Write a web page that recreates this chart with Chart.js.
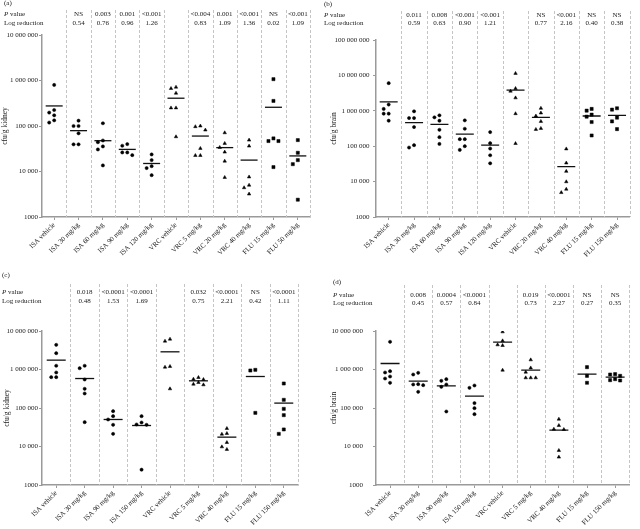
<!DOCTYPE html>
<html>
<head>
<meta charset="utf-8">
<script src="https://cdn.jsdelivr.net/npm/chart.js@4/dist/chart.umd.min.js"></script>
<style>
  body { margin: 0; background: #fff; }
  #wrap { position: relative; width: 640px; height: 529px; }
  canvas { position: absolute; }
</style>
</head>
<body>
<div id="wrap">
  <canvas id="chartA" width="320" height="262" style="left:0;top:0"></canvas>
  <canvas id="chartB" width="320" height="262" style="left:320px;top:0"></canvas>
  <canvas id="chartC" width="320" height="267" style="left:0;top:262px"></canvas>
  <canvas id="chartD" width="320" height="267" style="left:320px;top:262px"></canvas>
</div>
<script>
/* (a) kidney */
const labelsA = ['ISA vehicle', 'ISA 30 mg/kg', 'ISA 60 mg/kg', 'ISA 90 mg/kg', 'ISA 120 mg/kg', 'VRC vehicle', 'VRC 5 mg/kg', 'VRC 20 mg/kg', 'VRC 40 mg/kg', 'FLU 15 mg/kg', 'FLU 50 mg/kg'];
const valuesA = [
	[800000, 225000, 197000, 172000, 133000, 119000],
	[131000, 100000, 100000, 69000, 39500, 39500],
	[115000, 48000, 44000, 35600, 30500, 13600],
	[40000, 36800, 26200, 26200, 22900],
	[23700, 17800, 13100, 11900, 8300],
	[713000, 667000, 526000, 250000, 250000, 58000],
	[100000, 96700, 81600, 32200, 22500, 22500],
	[71000, 41500, 33800, 26700, 16900, 7400],
	[49000, 36200, 7600, 5000, 4400, 3200],
	[1070000, 356000, 53400, 46700, 46700, 12500],
	[49000, 25800, 17800, 14500, 2400]
];
const meansA = [276000, 79000, 47500, 30600, 15000, 408000, 60100, 33500, 17800, 258000, 22000];
const pValA = ['', 'NS', '0.003', '0.001', '<0.001', '', '<0.004', '0.001', '<0.001', 'NS', '<0.001'];
const logRedA = ['', '0.54', '0.76', '0.96', '1.26', '', '0.83', '1.09', '1.36', '0.02', '1.09'];
const yTicksA = [1000, 10000, 100000, 1000000, 10000000];

/* (b) brain */
const labelsB = ['ISA vehicle', 'ISA 30 mg/kg', 'ISA 60 mg/kg', 'ISA 90 mg/kg', 'ISA 120 mg/kg', 'VRC vehicle', 'VRC 20 mg/kg', 'VRC 40 mg/kg', 'FLU 15 mg/kg', 'FLU 150 mg/kg'];
const valuesB = [
	[6050000, 1500000, 1130000, 830000, 830000, 525000],
	[968000, 625000, 625000, 347000, 107000, 91600],
	[745000, 653000, 525000, 291000, 180000, 116000],
	[537000, 311000, 158000, 158000, 100000, 78700],
	[250000, 122000, 85900, 55500, 32900],
	[11400000, 4270000, 3590000, 2320000, 830000, 119000],
	[1180000, 867000, 713000, 502000, 318000, 298000],
	[83900, 33600, 19500, 9900, 6100, 4900],
	[1130000, 1010000, 779000, 683000, 481000, 201000],
	[1180000, 1080000, 640000, 502000, 304000]
];
const meansB = [1780000, 461000, 413000, 219000, 107000, 3830000, 653000, 26400, 713000, 745000];
const pValB = ['', '0.011', '0.008', '<0.001', '<0.001', '', 'NS', '<0.001', 'NS', 'NS'];
const logRedB = ['', '0.59', '0.63', '0.90', '1.21', '', '0.77', '2.16', '0.40', '0.38'];
const yTicksB = [1000, 10000, 100000, 1000000, 10000000, 100000000];

/* (c) kidney */
const labelsC = ['ISA vehicle', 'ISA 30 mg/kg', 'ISA 90 mg/kg', 'ISA 150 mg/kg', 'VRC vehicle', 'VRC 5 mg/kg', 'VRC 40 mg/kg', 'FLU 15 mg/kg', 'FLU 150 mg/kg'];
const valuesC = [
	[4370000, 2650000, 1250000, 836000, 632000, 632000],
	[1250000, 1080000, 550000, 315000, 238000, 42900],
	[82800, 61400, 50300, 36600, 21300],
	[61400, 42000, 37300, 36600, 2500],
	[6140000, 5450000, 1200000, 1150000, 315000],
	[620000, 561000, 550000, 459000, 416000, 400000],
	[29400, 21800, 20900, 12700, 9800, 8400],
	[980000, 942000, 74800],
	[433000, 163000, 95000, 65200, 27700, 21300]
];
const meansC = [1750000, 583000, 50300, 35100, 2880000, 508000, 17500, 658000, 134000];
const pValC = ['', '0.018', '<0.0001', '<0.0001', '', '0.032', '<0.0001', 'NS', '<0.0001'];
const logRedC = ['', '0.48', '1.53', '1.69', '', '0.75', '2.21', '0.42', '1.11'];
const yTicksC = [1000, 10000, 100000, 1000000, 10000000];

/* (d) brain */
const labelsD = ['ISA vehicle', 'ISA 30 mg/kg', 'ISA 90 mg/kg', 'ISA 150 mg/kg', 'VRC vehicle', 'VRC 5 mg/kg', 'VRC 40 mg/kg', 'FLU 15 mg/kg', 'FLU 150 mg/kg'];
const valuesD = [
	[5240000, 905000, 836000, 658000, 583000, 451000],
	[819000, 741000, 416000, 408000, 392000, 263000],
	[561000, 508000, 408000, 355000, 81100],
	[384000, 334000, 134000, 99000, 69200],
	[9500000, 5560000, 4370000, 4200000, 961000],
	[1780000, 1100000, 853000, 608000, 608000, 608000],
	[51300, 35100, 28200, 27700, 7900, 5300],
	[1150000, 684000, 451000],
	[757000, 741000, 684000, 561000, 528000, 518000]
];
const meansD = [1430000, 498000, 377000, 203000, 5130000, 961000, 26500, 757000, 632000];
const pValD = ['', '0.008', '0.0004', '<0.0001', '', '0.019', '<0.0001', 'NS', 'NS'];
const logRedD = ['', '0.45', '0.57', '0.84', '', '0.73', '2.27', '0.27', '0.35'];
const yTicksD = [1000, 10000, 100000, 1000000, 10000000];


const FONT = "'Liberation Serif', 'Times New Roman', serif";
const TEXT = '#1a1a1a';
const AXIS = '#9a9a9a';

//천단위 공백 (1000 은 그대로)
function fmtTick(v) {
	if (v < 10000) return String(v);
	return String(v).replace(/\B(?=(\d{3})+(?!\d))/g, ' ');
}

//약물별 마커 모양
function markerFor(label) {
	if (label.indexOf('ISA') === 0) return { style: 'circle', r: 1.6 };
	if (label.indexOf('VRC') === 0) return { style: 'triangle', r: 2 };
	return { style: 'rect', r: 2.2 };
}

/* 점선 구분선 + P value / Log reduction 헤더 */
const panelPlugin = {
	id: 'panel',
	beforeDatasetsDraw(chart, args, o) {
		const ctx = chart.ctx, xs = chart.scales.x, area = chart.chartArea;
		ctx.save();
		ctx.strokeStyle = '#c4c4c4';
		ctx.lineWidth = 1;
		ctx.setLineDash([3, 2]);
		for (let i = 0; i < o.labels.length; i++) {
			const x = Math.round(xs.getPixelForValue(i + 0.5)) + 0.5;
			ctx.beginPath();
			ctx.moveTo(x, o.sepTop);
			ctx.lineTo(x, area.bottom);
			ctx.stroke();
		}
		ctx.restore();
	},
	afterDraw(chart, args, o) {
		const ctx = chart.ctx, xs = chart.scales.x;
		ctx.save();
		ctx.fillStyle = TEXT;
		ctx.textBaseline = 'middle';
		ctx.textAlign = 'left';
		ctx.font = '7px ' + FONT;
		ctx.fillText(o.tag, o.left, o.tagY);
		ctx.font = 'italic 7px ' + FONT;
		ctx.fillText('P', o.left, o.row1);
		const w = ctx.measureText('P').width;
		ctx.font = '7px ' + FONT;
		ctx.fillText(' value', o.left + w, o.row1);
		ctx.fillText('Log reduction', o.left, o.row2);
		ctx.textAlign = 'center';
		o.pVals.forEach(function(t, i) {
			const x = xs.getPixelForValue(i);
			ctx.fillText(t, x, o.row1);
			ctx.fillText(o.logRed[i], x, o.row2);
		});
		ctx.restore();
	}
};

/* 같은 높이의 점은 옆으로 벌려 놓기 (beeswarm) */
function spread(chart, p) {
	const xs = chart.scales.x, ys = chart.scales.y;
	const unit = xs.getPixelForValue(1) - xs.getPixelForValue(0);
	const gap = 5;
	const slots = [0, -1, 1, -2, 2, -3, 3];
	p.values.forEach(function(vals, i) {
		const pts = vals.map(function(v, k) { return { v: v, k: k, py: ys.getPixelForValue(v) }; });
		pts.sort(function(a, b) { return a.py - b.py; });
		const placed = [];
		const out = [];
		pts.forEach(function(pt) {
			for (const s of slots) {
				const dx = s * gap;
				const ok = placed.every(function(q) {
					return Math.abs(q.dx - dx) >= gap - 0.1 || Math.abs(q.py - pt.py) >= 4.5;
				});
				if (ok) {
					placed.push({ dx: dx, py: pt.py });
					out[pt.k] = { x: i + dx / unit, y: pt.v };
					break;
				}
			}
		});
		chart.data.datasets[i].data = out;
	});
	chart.update('none');
}

function makeChart(id, p) {
	const n = p.labels.length;
	const tickFont = { family: FONT, size: 7 };

	const datasets = p.labels.map(function(lab, i) {
		const m = markerFor(lab);
		return {
			data: p.values[i].map(function(v) { return { x: i, y: v }; }),
			pointStyle: m.style,
			pointRadius: m.r,
			backgroundColor: '#000',
			borderColor: '#000',
			borderWidth: 0.5
		};
	});
	//평균선
	datasets.push({
		data: p.means.map(function(v, i) { return { x: i, y: v }; }),
		pointStyle: 'line',
		pointRadius: p.meanHalf,
		borderColor: '#111',
		borderWidth: 1.3
	});

	const config = {
		type: 'scatter',
		data: { datasets: datasets },
		options: {
			responsive: false,
			animation: false,
			events: [],
			layout: { padding: { top: p.padTop, right: p.padRight, left: 0, bottom: 0 } },
			plugins: {
				legend: { display: false },
				tooltip: { enabled: false },
				panel: p
			},
			scales: {
				x: {
					type: 'linear',
					min: -0.5,
					max: n - 0.5,
					afterBuildTicks: function(s) { s.ticks = p.labels.map(function(_, i) { return { value: i }; }); },
					afterFit: function(s) { s.height = p.xHeight; },
					ticks: {
						callback: function(v) { return p.labels[v]; },
						minRotation: 45,
						maxRotation: 45,
						autoSkip: false,
						padding: 1,
						font: tickFont,
						color: TEXT
					},
					grid: { drawOnChartArea: false, tickLength: 3, color: AXIS },
					border: { display: true, color: AXIS, width: 1.5 }
				},
				y: {
					type: 'logarithmic',
					min: p.yTicks[0],
					max: p.yTicks[p.yTicks.length - 1],
					afterBuildTicks: function(s) { s.ticks = p.yTicks.map(function(v) { return { value: v }; }); },
					afterFit: function(s) { s.width = p.yWidth; },
					ticks: {
						callback: function(v) { return fmtTick(v); },
						autoSkip: false,
						padding: p.yPad,
						font: tickFont,
						color: TEXT
					},
					grid: { drawOnChartArea: false, tickLength: 3, color: AXIS },
					border: { display: true, color: AXIS, width: 1.5 },
					title: {
						display: true,
						text: p.yTitle,
						font: { family: FONT, size: 7.5 },
						color: TEXT,
						padding: { top: p.titlePad, bottom: 0 }
					}
				}
			}
		},
		plugins: [panelPlugin]
	};

	const chart = new Chart(document.getElementById(id), config);
	spread(chart, p);
	return chart;
}

window.onload = function() {
	makeChart('chartA', {
		labels: labelsA, values: valuesA, means: meansA, pVals: pValA, logRed: logRedA, yTicks: yTicksA,
		yTitle: 'cfu/g kidney', tag: '(a)',
		left: 4, tagY: 3.5, row1: 14, row2: 23.3, sepTop: 10,
		padTop: 35, padRight: 10, yWidth: 42, xHeight: 45, yPad: 1, titlePad: 0.5, meanHalf: 8.5
	});
	makeChart('chartB', {
		labels: labelsB, values: valuesB, means: meansB, pVals: pValB, logRed: logRedB, yTicks: yTicksB,
		yTitle: 'cfu/g brain', tag: '(b)',
		left: 4, tagY: 4, row1: 15, row2: 23.5, sepTop: 11,
		padTop: 40, padRight: 0, yWidth: 56, xHeight: 45, yPad: 3.5, titlePad: 9.8, meanHalf: 9
	});
	makeChart('chartC', {
		labels: labelsC, values: valuesC, means: meansC, pVals: pValC, logRed: logRedC, yTicks: yTicksC,
		yTitle: 'cfu/g kidney', tag: '(c)',
		left: 2, tagY: 13, row1: 29.7, row2: 38.8, sepTop: 22,
		padTop: 69, padRight: 22, yWidth: 42, xHeight: 44, yPad: 1, titlePad: 2.2, meanHalf: 9.5
	});
	makeChart('chartD', {
		labels: labelsD, values: valuesD, means: meansD, pVals: pValD, logRed: logRedD, yTicks: yTicksD,
		yTitle: 'cfu/g brain', tag: '(d)',
		left: 13, tagY: 19.7, row1: 33, row2: 40.7, sepTop: 23,
		padTop: 69, padRight: 8, yWidth: 56, xHeight: 44, yPad: 10, titlePad: 9.3, meanHalf: 9.5
	});
};
</script>
</body>
</html>
